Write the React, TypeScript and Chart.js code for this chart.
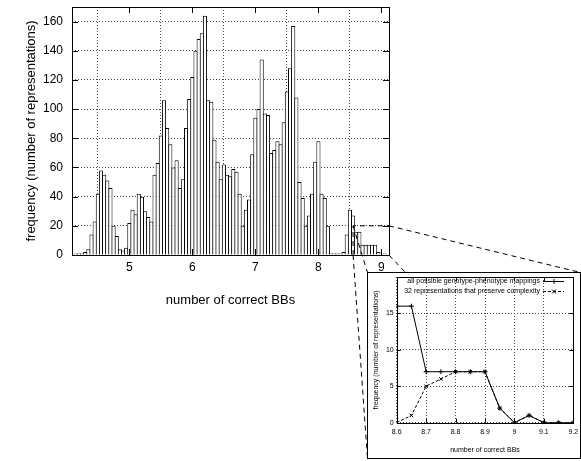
import React, { useEffect, useRef } from 'react';
import { Chart, registerables } from 'chart.js';

Chart.register(...registerables);

const FONT = '"Liberation Sans", Arial, Helvetica, sans-serif';

// Histogram of all genotype-phenotype mappings, bins 0.05 wide starting at 4.15
const binStart = 4.15;
const binWidth = 0.05;
const allCounts = [
  1, 1, 1, 2, 4, 14, 23, 42, 58, 55, 51, 46, 20, 13, 4, 3, 5,
  22, 31, 28, 42, 40, 30, 26, 23, 55, 63, 82, 106, 87, 76, 60, 65, 46, 52, 87, 107,
  122, 140, 148, 152, 164, 106, 105, 79, 64, 52, 62, 55, 54, 59, 57, 42, 20, 31, 38, 69,
  94, 100, 134, 97, 96, 70, 72, 78, 76, 91, 112, 128, 157, 108, 50, 39, 20, 27, 42, 64,
  78, 42, 39, 20, 1, 1, 1, 1, 2, 14, 31, 27,
];

// Detail range shown in the inset
const detailX = [8.6, 8.65, 8.7, 8.75, 8.8, 8.85, 8.9, 8.95, 9.0, 9.05, 9.1, 9.15, 9.2];
const allMappings = [16, 16, 7, 7, 7, 7, 7, 2, 0, 1, 0, 0, 0];
const preserving = [0, 1, 5, 6, 7, 7, 7, 2, 0, 1, 0, 0, 0];

const mainTicksX = [5, 6, 7, 8, 9];
const mainTicksY = [0, 20, 40, 60, 80, 100, 120, 140, 160];
const detailTicksX = [8.6, 8.7, 8.8, 8.9, 9.0, 9.1, 9.2];
const detailTicksY = [0, 5, 10, 15, 20];

const seriesLabels = [
  'all possible genotype-phenotype mappings',
  '32 representations that preserve complexity',
];
const yTitle = 'frequency (number of representations)';
const xTitle = 'number of correct BBs';

// page layout
const W = 581;
const H = 461;
const INSET = { left: 367, top: 272, w: 214, h: 187 };

const GRID = '#444';

function noScalePadding(s: any) {
  s.paddingTop = 0;
  s.paddingBottom = 0;
  s.paddingLeft = 0;
  s.paddingRight = 0;
}

function drawInwardTicks(ctx: CanvasRenderingContext2D, chart: any, len: number) {
  const a = chart.chartArea;
  const xs = chart.scales.x;
  const ys = chart.scales.y;
  ctx.beginPath();
  xs.ticks.forEach((t: any) => {
    const px = Math.round(xs.getPixelForValue(t.value)) + 0.5;
    ctx.moveTo(px, a.bottom);
    ctx.lineTo(px, a.bottom - len);
    ctx.moveTo(px, a.top);
    ctx.lineTo(px, a.top + len);
  });
  ys.ticks.forEach((t: any) => {
    const py = Math.round(ys.getPixelForValue(t.value)) + 0.5;
    ctx.moveTo(a.left, py);
    ctx.lineTo(a.left + len, py);
    ctx.moveTo(a.right, py);
    ctx.lineTo(a.right - len, py);
  });
  ctx.stroke();
}

function drawFrame(ctx: CanvasRenderingContext2D, a: any) {
  const l = Math.round(a.left) + 0.5;
  const t = Math.round(a.top) + 0.5;
  const r = Math.round(a.right) + 0.5;
  const b = Math.round(a.bottom) + 0.5;
  ctx.strokeRect(l, t, r - l, b - t);
}

const mainDecor = {
  id: 'mainDecor',
  afterDraw(chart: any) {
    const { ctx, chartArea: a, scales } = chart;
    ctx.save();
    ctx.strokeStyle = '#000';
    ctx.lineWidth = 1;
    drawFrame(ctx, a);
    drawInwardTicks(ctx, chart, 6);

    // axis titles
    ctx.fillStyle = '#000';
    ctx.font = `13px ${FONT}`;
    ctx.textAlign = 'center';
    ctx.textBaseline = 'middle';
    ctx.fillText(xTitle, (a.left + a.right) / 2, a.bottom + 45);
    ctx.save();
    ctx.translate(31, (a.top + a.bottom) / 2);
    ctx.rotate(-Math.PI / 2);
    ctx.fillText(yTitle, 0, 0);
    ctx.restore();

    // zoom window and connectors to the inset
    const x1 = scales.x.getPixelForValue(8.55);
    const x2 = a.right;
    const y1 = scales.y.getPixelForValue(20);
    const y2 = a.bottom;
    const iL = INSET.left + 0.5;
    const iT = INSET.top + 0.5;
    const iR = INSET.left + INSET.w - 0.5;
    const iB = INSET.top + INSET.h - 0.5;
    ctx.setLineDash([5, 4]);
    ctx.beginPath();
    ctx.moveTo(x1, y2);
    ctx.lineTo(x1, y1);
    ctx.lineTo(x2, y1);
    ctx.moveTo(x1, y1);
    ctx.lineTo(iL, iT);
    ctx.moveTo(x1, y2);
    ctx.lineTo(iL, iB);
    ctx.moveTo(x2, y1);
    ctx.lineTo(iR, iT);
    ctx.moveTo(x2, y2);
    ctx.lineTo(iR, iB);
    ctx.stroke();
    ctx.restore();
  },
};

const detailDecor = {
  id: 'detailDecor',
  beforeDraw(chart: any) {
    const { ctx, width, height } = chart;
    ctx.save();
    ctx.fillStyle = '#fff';
    ctx.fillRect(0, 0, width, height);
    ctx.restore();
  },
  afterDraw(chart: any) {
    const { ctx, chartArea: a, width, height } = chart;
    ctx.save();
    ctx.strokeStyle = '#000';
    ctx.lineWidth = 1;
    drawFrame(ctx, a);
    drawInwardTicks(ctx, chart, 4);
    ctx.strokeRect(0.5, 0.5, width - 1, height - 1);

    ctx.fillStyle = '#000';
    ctx.font = `7px ${FONT}`;
    ctx.textAlign = 'center';
    ctx.textBaseline = 'middle';
    ctx.fillText(xTitle, (a.left + a.right) / 2, 178);
    ctx.save();
    ctx.translate(9, (a.top + a.bottom) / 2);
    ctx.rotate(-Math.PI / 2);
    ctx.fillText(yTitle, 0, 0);
    ctx.restore();

    // key
    chart.data.datasets.forEach((ds: any, i: number) => {
      const y = 9.5 + i * 10;
      ctx.textAlign = 'right';
      ctx.fillText(ds.label, 173, y);
      ctx.setLineDash(ds.borderDash || []);
      ctx.beginPath();
      ctx.moveTo(176, y);
      ctx.lineTo(197, y);
      ctx.stroke();
      ctx.setLineDash([]);
      const mx = 187;
      const r = 2.5;
      ctx.beginPath();
      if (ds.pointStyle === 'cross') {
        ctx.moveTo(mx - r, y);
        ctx.lineTo(mx + r, y);
        ctx.moveTo(mx, y - r);
        ctx.lineTo(mx, y + r);
      } else {
        ctx.moveTo(mx - r * 0.8, y - r * 0.8);
        ctx.lineTo(mx + r * 0.8, y + r * 0.8);
        ctx.moveTo(mx - r * 0.8, y + r * 0.8);
        ctx.lineTo(mx + r * 0.8, y - r * 0.8);
      }
      ctx.stroke();
    });
    ctx.restore();
  },
};

function binCenter(i: number) {
  return Number((binStart + i * binWidth).toFixed(2));
}

function mainConfig(): any {
  const data = allCounts
    .map((y, i) => ({ x: binCenter(i), y }))
    .concat(detailX.map((x, i) => ({ x, y: allMappings[i] })));
  return {
    type: 'bar',
    data: {
      datasets: [
        {
          label: seriesLabels[0],
          data,
          backgroundColor: '#fff',
          borderColor: '#000',
          borderWidth: 1,
          borderSkipped: 'start',
          categoryPercentage: 1,
          barPercentage: 1.32,
        },
      ],
    },
    options: {
      responsive: false,
      animation: false,
      events: [],
      layout: { padding: { left: 0, top: 7, right: W - 389, bottom: 0 } },
      plugins: { legend: { display: false }, tooltip: { enabled: false } },
      scales: {
        x: {
          type: 'linear',
          min: 4.09,
          max: 9.12,
          offset: false,
          afterBuildTicks: (s: any) => {
            s.ticks = mainTicksX.map((value) => ({ value }));
          },
          afterFit: (s: any) => {
            s.height = H - 255;
            noScalePadding(s);
          },
          grid: { color: GRID, lineWidth: 1, drawTicks: false },
          border: { display: false, dash: [1, 2] },
          ticks: {
            color: '#000',
            font: { family: FONT, size: 12 },
            padding: 5,
            autoSkip: false,
            maxRotation: 0,
            callback: (v: any) => String(v),
          },
        },
        y: {
          type: 'linear',
          min: 0,
          max: 170,
          afterBuildTicks: (s: any) => {
            s.ticks = mainTicksY.map((value) => ({ value }));
          },
          afterFit: (s: any) => {
            s.width = 72;
            noScalePadding(s);
          },
          grid: { color: GRID, lineWidth: 1, drawTicks: false },
          border: { display: false, dash: [1, 2] },
          ticks: {
            color: '#000',
            font: { family: FONT, size: 12 },
            padding: 9,
            autoSkip: false,
            callback: (v: any) => String(v),
          },
        },
      },
    },
    plugins: [mainDecor],
  };
}

function detailConfig(): any {
  return {
    type: 'line',
    data: {
      datasets: [
        {
          label: seriesLabels[0],
          data: detailX.map((x, i) => ({ x, y: allMappings[i] })),
          borderColor: '#000',
          borderWidth: 1,
          pointStyle: 'cross',
          pointRadius: 2.5,
          pointBorderColor: '#000',
          pointBorderWidth: 1,
          fill: false,
          tension: 0,
        },
        {
          label: seriesLabels[1],
          data: detailX.map((x, i) => ({ x, y: preserving[i] })),
          borderColor: '#000',
          borderWidth: 1,
          borderDash: [3, 2],
          pointStyle: 'crossRot',
          pointRadius: 2.5,
          pointBorderColor: '#000',
          pointBorderWidth: 1,
          fill: false,
          tension: 0,
        },
      ],
    },
    options: {
      responsive: false,
      animation: false,
      events: [],
      layout: { padding: { left: 0, top: 2, right: INSET.w - 206.3, bottom: 0 } },
      plugins: { legend: { display: false }, tooltip: { enabled: false } },
      scales: {
        x: {
          type: 'linear',
          min: 8.6,
          max: 9.2,
          afterBuildTicks: (s: any) => {
            s.ticks = detailTicksX.map((value) => ({ value }));
          },
          afterFit: (s: any) => {
            s.height = INSET.h - 150.7;
            noScalePadding(s);
          },
          grid: { color: GRID, lineWidth: 1, drawTicks: false },
          border: { display: false, dash: [1, 2] },
          ticks: {
            color: '#000',
            font: { family: FONT, size: 7 },
            padding: 5,
            autoSkip: false,
            maxRotation: 0,
            callback: (v: any) => String(Number(Number(v).toFixed(1))),
          },
        },
        y: {
          type: 'linear',
          min: 0,
          max: 20,
          afterBuildTicks: (s: any) => {
            s.ticks = detailTicksY.map((value) => ({ value }));
          },
          afterFit: (s: any) => {
            s.width = 29.7;
            noScalePadding(s);
          },
          grid: { color: GRID, lineWidth: 1, drawTicks: false },
          border: { display: false, dash: [1, 2] },
          ticks: {
            color: '#000',
            font: { family: FONT, size: 7 },
            padding: 3,
            autoSkip: false,
            // the top label sits under the frame edge
            callback: (v: any) => (v === 20 ? '' : String(v)),
          },
        },
      },
    },
    plugins: [detailDecor],
  };
}

export default function App() {
  const mainRef = useRef<HTMLCanvasElement>(null);
  const detailRef = useRef<HTMLCanvasElement>(null);

  useEffect(() => {
    const main = new Chart(mainRef.current as HTMLCanvasElement, mainConfig());
    const detail = new Chart(detailRef.current as HTMLCanvasElement, detailConfig());
    return () => {
      main.destroy();
      detail.destroy();
    };
  }, []);

  return (
    <div style={{ position: 'fixed', left: 0, top: 0, width: W, height: H, background: '#fff' }}>
      <canvas
        ref={mainRef}
        width={W}
        height={H}
        style={{ position: 'absolute', left: 0, top: 0 }}
      />
      <canvas
        ref={detailRef}
        width={INSET.w}
        height={INSET.h}
        style={{ position: 'absolute', left: INSET.left, top: INSET.top }}
      />
    </div>
  );
}
